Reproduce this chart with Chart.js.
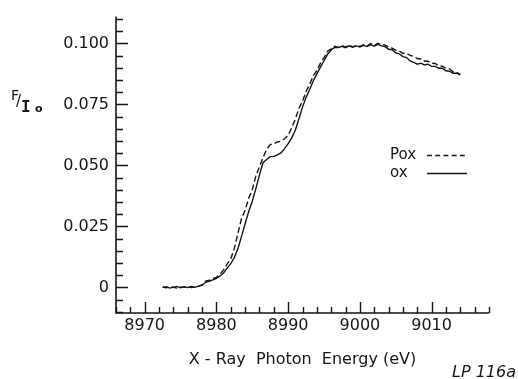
<!DOCTYPE html>
<html>
<head>
<meta charset="utf-8">
<script src="https://cdn.jsdelivr.net/npm/chart.js@4/dist/chart.umd.min.js"></script>
<style>
  html, body { margin: 0; padding: 0; background: #fff; }
  #wrap { width: 518px; height: 379px; position: relative; }
</style>
</head>
<body>
<div id="wrap"><canvas id="xanes"></canvas></div>
<script>
// photon energy (eV), shared by both spectra
var energies = [
  8972.5, 8973.0, 8973.5, 8974.0, 8974.5, 8975.0, 8975.5, 8976.0, 8976.5, 8977.0,
  8977.5, 8978.0, 8978.5, 8979.0, 8979.5, 8980.0, 8980.5, 8981.0, 8981.5, 8982.0,
  8982.5, 8983.0, 8983.5, 8984.0, 8984.5, 8985.0, 8985.5, 8986.0, 8986.5, 8987.0,
  8987.5, 8988.0, 8988.5, 8989.0, 8989.5, 8990.0, 8990.5, 8991.0, 8991.5, 8992.0,
  8992.5, 8993.0, 8993.5, 8994.0, 8994.5, 8995.0, 8995.5, 8996.0, 8996.5, 8997.0,
  8997.5, 8998.0, 8998.5, 8999.0, 8999.5, 9000.0, 9000.5, 9001.0, 9001.5, 9002.0,
  9002.5, 9003.0, 9003.5, 9004.0, 9004.5, 9005.0, 9005.5, 9006.0, 9006.5, 9007.0,
  9007.5, 9008.0, 9008.5, 9009.0, 9009.5, 9010.0, 9010.5, 9011.0, 9011.5, 9012.0,
  9012.5, 9013.0, 9013.5, 9014.0
];

// F/Io, "Pox" (dashed)
var poxValues = [
  0.0001, -0.0002, 0.0003, 0.0000, -0.0003, 0.0002, 0.0000, 0.0004, -0.0001, 0.0002,
  0.0004, 0.0011, 0.0026, 0.0029, 0.0036, 0.0041, 0.0054, 0.0072, 0.0096, 0.0117,
  0.0160, 0.0222, 0.0282, 0.0316, 0.0366, 0.0400, 0.0457, 0.0495, 0.0532, 0.0566,
  0.0585, 0.0589, 0.0596, 0.0599, 0.0609, 0.0624, 0.0654, 0.0690, 0.0733, 0.0763,
  0.0803, 0.0832, 0.0868, 0.0888, 0.0919, 0.0942, 0.0968, 0.0978, 0.0988, 0.0984,
  0.0991, 0.0985, 0.0993, 0.0986, 0.0992, 0.0988, 0.0995, 0.0989, 0.0999, 0.0992,
  0.1001, 0.0994, 0.0994, 0.0984, 0.0981, 0.0972, 0.0969, 0.0959, 0.0960, 0.0951,
  0.0947, 0.0938, 0.0936, 0.0928, 0.0927, 0.0919, 0.0918, 0.0908, 0.0907, 0.0898,
  0.0896, 0.0884, 0.0881, 0.0873
];

// F/Io, "ox" (solid)
var oxValues = [
  0.0000, 0.0003, -0.0003, 0.0001, 0.0004, -0.0002, 0.0003, -0.0001, 0.0004, 0.0000,
  0.0005, 0.0008, 0.0021, 0.0025, 0.0031, 0.0037, 0.0047, 0.0059, 0.0079, 0.0097,
  0.0123, 0.0159, 0.0209, 0.0261, 0.0311, 0.0353, 0.0405, 0.0461, 0.0511, 0.0524,
  0.0536, 0.0537, 0.0543, 0.0551, 0.0569, 0.0589, 0.0613, 0.0644, 0.0691, 0.0739,
  0.0779, 0.0811, 0.0846, 0.0875, 0.0903, 0.0929, 0.0956, 0.0973, 0.0984, 0.0983,
  0.0988, 0.0982, 0.0990, 0.0984, 0.0990, 0.0985, 0.0992, 0.0987, 0.0995, 0.0989,
  0.0996, 0.0990, 0.0987, 0.0976, 0.0974, 0.0961, 0.0957, 0.0946, 0.0942, 0.0928,
  0.0922, 0.0915, 0.0919, 0.0912, 0.0915, 0.0906, 0.0906, 0.0898, 0.0898, 0.0888,
  0.0886, 0.0878, 0.0878, 0.0871
];

var seriesNames = ["Pox", "ox"];

var xMajorTicks = [8970, 8980, 8990, 9000, 9010];
var xTickLabels = ["8970", "8980", "8990", "9000", "9010"];
var yMajorTicks = [0, 0.025, 0.05, 0.075, 0.1];
var yTickLabels = ["0", "0.025", "0.050", "0.075", "0.100"];

var ink = '#151515';
var font = "'DejaVu Sans', sans-serif";

function labelFor(value, majors, labels) {
    for (var i = 0; i < majors.length; i++) {
        if (Math.abs(value - majors[i]) < 1e-6) return labels[i];
    }
    return '';
}

function onStep(value, step) {
    return Math.abs(value / step - Math.round(value / step)) < 1e-6;
}

// inward tick marks, axis lines, the F/Io label, the legend and the plate tag
var decor = {
    id: 'decor',
    afterDraw: function (chart) {
        var ctx = chart.ctx;
        var xs = chart.scales.x, ys = chart.scales.y;
        var area = chart.chartArea;
        ctx.save();
        ctx.strokeStyle = ink;
        ctx.lineWidth = 1.6;
        ctx.beginPath();
        ctx.moveTo(area.left, area.top);
        ctx.lineTo(area.left, area.bottom);
        ctx.lineTo(area.right, area.bottom);
        ctx.stroke();

        ctx.lineWidth = 1.4;
        ctx.beginPath();
        ys.ticks.forEach(function (t) {
            if (!onStep(t.value, 0.005)) return;
            var len = onStep(t.value, 0.025) ? 12 : 7;
            var py = Math.round(ys.getPixelForValue(t.value)) + 0.5;
            ctx.moveTo(area.left, py);
            ctx.lineTo(area.left + len, py);
        });
        xs.ticks.forEach(function (t) {
            if (!onStep(t.value, 2)) return;
            var len = onStep(t.value, 10) ? 11 : 6;
            var px = Math.round(xs.getPixelForValue(t.value)) + 0.5;
            ctx.moveTo(px, area.bottom);
            ctx.lineTo(px, area.bottom - len);
        });
        ctx.stroke();

        // y label  F/Io
        ctx.fillStyle = ink;
        ctx.textBaseline = 'alphabetic';
        ctx.textAlign = 'left';
        ctx.font = "14px " + font;
        ctx.fillText('F', 11, 100);
        ctx.font = "15px " + font;
        ctx.fillText('/', 16, 106);
        ctx.font = "bold 16px 'DejaVu Sans Mono', monospace";
        ctx.fillText('I', 21, 112);
        ctx.font = "bold 11px " + font;
        ctx.fillText('o', 35, 112);

        // legend: label then line sample
        ctx.font = "15px " + font;
        var rows = [
            {label: chart.data.datasets[0].label, dash: chart.data.datasets[0].borderDash, y: 155.5},
            {label: chart.data.datasets[1].label, dash: chart.data.datasets[1].borderDash, y: 173.5}
        ];
        rows.forEach(function (r) {
            ctx.textBaseline = 'middle';
            ctx.fillText(r.label, 390, r.y);
            ctx.beginPath();
            ctx.setLineDash(r.dash && r.dash.length ? [5, 3.2] : []);
            ctx.lineWidth = 1.4;
            ctx.moveTo(427, r.y);
            ctx.lineTo(467, r.y);
            ctx.stroke();
        });
        ctx.setLineDash([]);

        ctx.font = "italic 16px " + font;
        ctx.textBaseline = 'alphabetic';
        ctx.fillText('LP 116a', 452, 377);
        ctx.restore();
    }
};

function toPoints(values) {
    return energies.map(function (e, i) { return {x: e, y: values[i]}; });
}

var ctx = document.getElementById('xanes');
var chart = new Chart(ctx, {
    type: 'line',
    data: {
        datasets: [{
            label: seriesNames[0],
            data: toPoints(poxValues),
            borderColor: ink,
            borderWidth: 1.4,
            borderDash: [6, 3],
            pointRadius: 0,
            fill: false,
            tension: 0
        },
        {
            label: seriesNames[1],
            data: toPoints(oxValues),
            borderColor: ink,
            borderWidth: 1.4,
            pointRadius: 0,
            fill: false,
            tension: 0
        }]
    },
    options: {
        responsive: true,
        maintainAspectRatio: false,
        animation: false,
        layout: {
            padding: {left: 0, top: 13, right: 29, bottom: 0}
        },
        plugins: {
            legend: {display: false},
            tooltip: {enabled: false}
        },
        scales: {
            x: {
                type: 'linear',
                min: 8966,
                max: 9018,
                grid: {display: false, drawTicks: false},
                border: {display: false},
                ticks: {
                    stepSize: 2,
                    includeBounds: false,
                    autoSkip: false,
                    maxRotation: 0,
                    padding: 3,
                    color: ink,
                    font: {family: font, size: 16},
                    callback: function (v) { return labelFor(v, xMajorTicks, xTickLabels); }
                },
                title: {
                    display: true,
                    text: 'X - Ray  Photon  Energy (eV)',
                    color: ink,
                    font: {family: font, size: 16},
                    padding: {top: 0, bottom: 10}
                },
                afterFit: function (scale) { scale.height = 66; }
            },
            y: {
                min: -0.0105,
                max: 0.111,
                grid: {display: false, drawTicks: false},
                border: {display: false},
                ticks: {
                    stepSize: 0.005,
                    includeBounds: false,
                    autoSkip: false,
                    padding: 7,
                    color: ink,
                    font: {family: font, size: 16},
                    callback: function (v) { return labelFor(v, yMajorTicks, yTickLabels); }
                },
                afterFit: function (scale) { scale.width = 116; }
            }
        }
    },
    plugins: [decor]
});
</script>
</body>
</html>
